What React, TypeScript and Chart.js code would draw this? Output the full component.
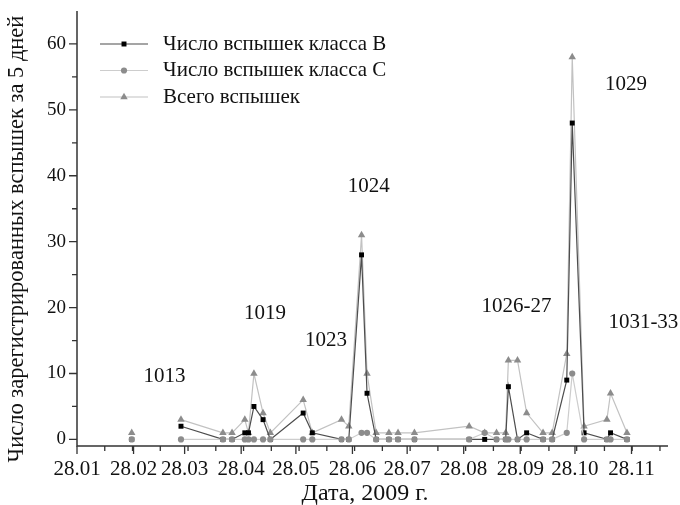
import React, { useEffect, useRef } from "react";
import { Chart, registerables } from "chart.js";

Chart.register(...registerables);

// Days counted from 28.01.2009
const days = [30, 57, 80, 85, 92, 94, 97, 102, 106, 124, 129, 145, 149, 156, 159, 164, 171, 176, 185, 215, 223.5, 230, 235, 236.5, 241.5, 246.5, 255.5, 260.5, 268.5, 271.5, 278, 290.5, 292.5, 301.5];
const classB = [0, 2, 0, 0, 1, 1, 5, 3, 0, 4, 1, 0, 0, 28, 7, 0, 0, 0, 0, 0, 0, 0, 0, 8, 0, 1, 0, 0, 9, 48, 1, 0, 1, 0];
const classC = [0, 0, 0, 0, 0, 0, 0, 0, 0, 0, 0, 0, 0, 1, 1, 0, 0, 0, 0, 0, 1, 0, 0, 0, 0, 0, 0, 0, 1, 10, 0, 0, 0, 0];
const total = [1, 3, 1, 1, 3, 1, 10, 4, 1, 6, 1, 3, 2, 31, 10, 1, 1, 1, 1, 2, 1, 1, 1, 12, 12, 4, 1, 1, 13, 58, 2, 3, 7, 1];
// the first point stands alone (no line to the next one)
const gapAfter = [0];

const seriesNames = ["Число вспышек класса B", "Число вспышек класса C", "Всего вспышек"];

const monthLabels = ["28.01", "28.02", "28.03", "28.04", "28.05", "28.06", "28.07", "28.08", "28.09", "28.10", "28.11"];
const yMajorTicks = [0, 10, 20, 30, 40, 50, 60];
const yMinorTicks = [5, 15, 25, 35, 45, 55];

const regionLabels = ["1013", "1019", "1023", "1024", "1026-27", "1029", "1031-33"];
const regionDays = [48, 103, 136.5, 160, 241, 301, 310.5];
const regionValues = [9.6, 19.1, 15, 38.4, 20.2, 53.8, 17.8];

const xTitle = "Дата, 2009 г.";
const yTitle = "Число зарегистрированных вспышек за 5 дней";

const DAY_MS = 86400000;
const START = Date.UTC(2009, 0, 28);
const monthDays = monthLabels.map((_, i) => (Date.UTC(2009, i, 28) - START) / DAY_MS);
const minorStep = 365.25 / 24;

const SERIF = '"Liberation Serif", "Times New Roman", serif';

const styles = [
  { line: "#4d4d4d", fill: "#000000", shape: "rect", r: 3.5 },
  { line: "#cdcdcd", fill: "#8c8c8c", shape: "circle", r: 3.1 },
  { line: "#c2c2c2", fill: "#8c8c8c", shape: "triangle", r: 4.3 },
];

function drawMarker(ctx: CanvasRenderingContext2D, shape: string, x: number, y: number, r: number, color: string) {
  ctx.save();
  ctx.fillStyle = color;
  ctx.beginPath();
  if (shape === "rect") {
    const s = r * Math.SQRT1_2;
    ctx.rect(x - s, y - s, 2 * s, 2 * s);
  } else if (shape === "circle") {
    ctx.arc(x, y, r, 0, Math.PI * 2);
  } else {
    ctx.moveTo(x, y - r);
    ctx.lineTo(x + r * 0.866, y + r * 0.5);
    ctx.lineTo(x - r * 0.866, y + r * 0.5);
    ctx.closePath();
  }
  ctx.fill();
  ctx.restore();
}

const decorPlugin = {
  id: "decor",
  afterDraw(chart: any) {
    const ctx: CanvasRenderingContext2D = chart.ctx;
    const xs = chart.scales.x;
    const ys = chart.scales.y;
    const area = chart.chartArea;
    ctx.save();
    // axes lines
    ctx.strokeStyle = "#333";
    ctx.lineWidth = 1.5;
    ctx.beginPath();
    ctx.moveTo(area.left, area.top);
    ctx.lineTo(area.left, area.bottom);
    ctx.lineTo(area.right, area.bottom);
    ctx.stroke();

    ctx.lineWidth = 1.3;
    ctx.beginPath();
    monthDays.forEach((d) => {
      const px = xs.getPixelForValue(d);
      ctx.moveTo(px, area.bottom);
      ctx.lineTo(px, area.bottom + 8);
    });
    for (let k = 1; k * minorStep <= xs.max; k++) {
      const px = xs.getPixelForValue(k * minorStep);
      ctx.moveTo(px, area.bottom);
      ctx.lineTo(px, area.bottom + 5);
    }
    yMajorTicks.forEach((v) => {
      const py = ys.getPixelForValue(v);
      ctx.moveTo(area.left, py);
      ctx.lineTo(area.left - 8, py);
    });
    yMinorTicks.forEach((v) => {
      const py = ys.getPixelForValue(v);
      ctx.moveTo(area.left, py);
      ctx.lineTo(area.left - 5, py);
    });
    ctx.stroke();

    // tick labels
    ctx.fillStyle = "#111";
    ctx.font = `21px ${SERIF}`;
    ctx.textAlign = "center";
    ctx.textBaseline = "middle";
    monthLabels.forEach((lab, i) => {
      ctx.fillText(lab, xs.getPixelForValue(monthDays[i]), area.bottom + 23);
    });
    ctx.font = `19px ${SERIF}`;
    ctx.textAlign = "right";
    yMajorTicks.forEach((v) => {
      ctx.fillText(String(v), area.left - 11, ys.getPixelForValue(v));
    });

    // titles
    ctx.font = `24px ${SERIF}`;
    ctx.textAlign = "center";
    ctx.fillText(xTitle, 365, 494);
    ctx.font = `22.5px ${SERIF}`;
    ctx.save();
    ctx.translate(17, 239);
    ctx.rotate(-Math.PI / 2);
    ctx.fillText(yTitle, 0, 0);
    ctx.restore();

    // region labels
    ctx.font = `21px ${SERIF}`;
    regionLabels.forEach((lab, i) => {
      ctx.fillText(lab, xs.getPixelForValue(regionDays[i]), ys.getPixelForValue(regionValues[i]));
    });

    // legend
    ctx.font = `21px ${SERIF}`;
    ctx.textAlign = "left";
    seriesNames.forEach((name, i) => {
      const yy = 44 + i * 26.5;
      const st = styles[i];
      ctx.strokeStyle = st.line;
      ctx.lineWidth = 1.2;
      ctx.beginPath();
      ctx.moveTo(100, yy);
      ctx.lineTo(148, yy);
      ctx.stroke();
      drawMarker(ctx, st.shape, 124, yy, st.r, st.fill);
      ctx.fillStyle = "#111";
      ctx.fillText(name, 163, yy);
    });
    ctx.restore();
  },
};

function makeDataset(label: string, values: number[], idx: number, order: number) {
  const st = styles[idx];
  return {
    label,
    data: days.map((d, i) => ({ x: d, y: values[i] })),
    borderColor: st.line,
    borderWidth: 1.2,
    pointStyle: st.shape,
    pointRadius: st.r,
    pointBackgroundColor: st.fill,
    pointBorderColor: st.fill,
    pointBorderWidth: 0,
    pointHoverRadius: st.r,
    tension: 0,
    fill: false,
    order,
    segment: {
      borderColor: (c: any) => (gapAfter.includes(c.p0DataIndex) ? "rgba(0,0,0,0)" : st.line),
    },
  };
}

export default function App() {
  const ref = useRef<HTMLCanvasElement | null>(null);
  useEffect(() => {
    if (!ref.current) return;
    const chart = new Chart(ref.current, {
      type: "line",
      data: {
        datasets: [
          makeDataset(seriesNames[0], classB, 0, 1),
          makeDataset(seriesNames[1], classC, 1, 0),
          makeDataset(seriesNames[2], total, 2, 2),
        ] as any,
      },
      options: {
        animation: false,
        responsive: false,
        devicePixelRatio: 1,
        layout: { padding: { left: 77, right: 12, top: 11, bottom: 59 } },
        plugins: { legend: { display: false }, tooltip: { enabled: false } },
        scales: {
          x: { type: "linear", min: 0, max: 324, display: false },
          y: { type: "linear", min: -1, max: 65, display: false },
        },
      } as any,
      plugins: [decorPlugin],
    });
    return () => chart.destroy();
  }, []);
  return (
    <div style={{ position: "absolute", left: 0, top: 0, width: 680, height: 505, background: "#fff" }}>
      <canvas ref={ref} width={680} height={505} />
    </div>
  );
}
